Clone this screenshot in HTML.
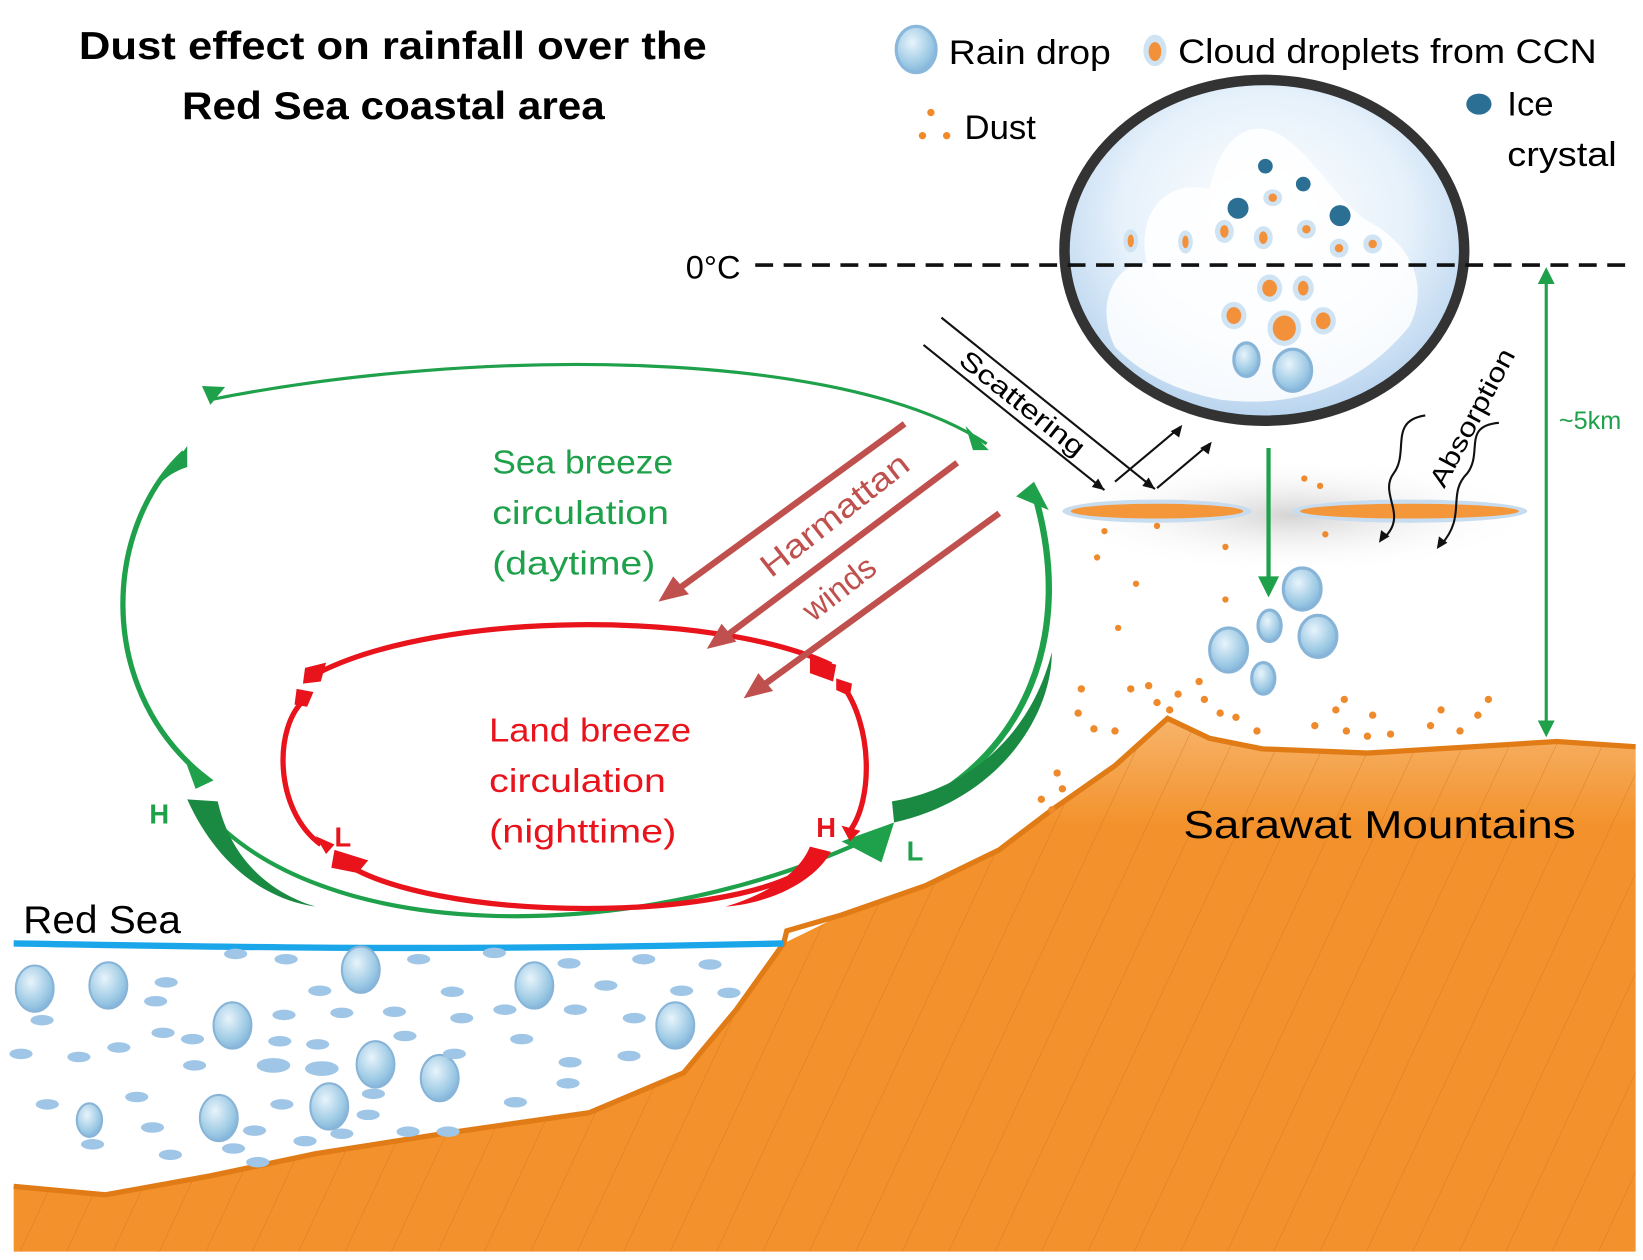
<!DOCTYPE html>
<html><head><meta charset="utf-8"><style>
html,body{margin:0;padding:0;background:#fff;width:1643px;height:1260px;overflow:hidden}
svg{display:block}
text{font-family:"Liberation Sans","DejaVu Sans",sans-serif}
</style></head><body>
<svg width="1643" height="1260" viewBox="0 0 1562 1198" preserveAspectRatio="none" xmlns="http://www.w3.org/2000/svg">
<defs>
<radialGradient id="sky" cx="0.5" cy="0.4" r="0.6"><stop offset="0" stop-color="#ffffff"/><stop offset="0.6" stop-color="#e6f1fb"/><stop offset="1" stop-color="#b7d3ee"/></radialGradient>
<radialGradient id="drop" cx="0.4" cy="0.35" r="0.7"><stop offset="0" stop-color="#e8f4fb"/><stop offset="0.7" stop-color="#9cc9e4"/><stop offset="1" stop-color="#7fb0d8"/></radialGradient>
<radialGradient id="haze" cx="0.5" cy="0.5" r="0.5"><stop offset="0" stop-color="#d4d4d4"/><stop offset="1" stop-color="#ffffff" stop-opacity="0"/></radialGradient>
<linearGradient id="mtn" x1="0" y1="0" x2="0" y2="1"><stop offset="0" stop-color="#f7b46a"/><stop offset="0.2" stop-color="#f3922c"/><stop offset="1" stop-color="#f3922c"/></linearGradient>
<pattern id="hatch" width="40" height="60" patternUnits="userSpaceOnUse" patternTransform="rotate(25)"><line x1="0" y1="0" x2="0" y2="60" stroke="#c86a18" stroke-width="1" opacity="0.6"/></pattern>
</defs>

<!-- title -->
<text x="75" y="56" font-size="37" font-weight="bold" textLength="597" lengthAdjust="spacingAndGlyphs">Dust effect on rainfall over the</text>
<text x="173" y="113" font-size="37" font-weight="bold" textLength="402" lengthAdjust="spacingAndGlyphs">Red Sea coastal area</text>

<!-- legend -->
<ellipse cx="871" cy="47" rx="19" ry="22" fill="url(#drop)" stroke="#8ab8dc" stroke-width="3"/>
<text x="902" y="61" font-size="33" textLength="154" lengthAdjust="spacingAndGlyphs">Rain drop</text>
<ellipse cx="1098" cy="48" rx="11" ry="15" fill="#cfe3f3"/><ellipse cx="1098" cy="49" rx="6" ry="9" fill="#f2913a"/>
<text x="1120" y="60" font-size="33" textLength="398" lengthAdjust="spacingAndGlyphs">Cloud droplets from CCN</text>
<circle cx="885" cy="107" r="3.5" fill="#f08a2a"/><circle cx="877" cy="129" r="3.5" fill="#f08a2a"/><circle cx="900" cy="129" r="3.5" fill="#f08a2a"/>
<text x="917" y="132" font-size="33">Dust</text>
<ellipse cx="1406" cy="99" rx="12" ry="10" fill="#2b6f95"/>
<text x="1433" y="110" font-size="33">Ice</text>
<text x="1433" y="158" font-size="33" textLength="104" lengthAdjust="spacingAndGlyphs">crystal</text>

<!-- mountain -->
<path d="M13,1128 L100,1136 L200,1118 L300,1097 L420,1078 L560,1058 L650,1020 L700,960 L745,897 L800,870 L880,842 L950,808 L1000,770 L1060,728 L1110,683 L1150,702 L1200,712 L1300,716 L1400,710 L1480,705 L1555,710 L1555,1190 L13,1190 Z" fill="url(#mtn)"/>
<path d="M13,1128 L100,1136 L200,1118 L300,1097 L420,1078 L560,1058 L650,1020 L700,960 L745,897 L800,870 L880,842 L950,808 L1000,770 L1060,728 L1110,683 L1150,702 L1200,712 L1300,716 L1400,710 L1480,705 L1555,710 L1555,1190 L13,1190 Z" fill="url(#hatch)"/>
<path d="M13,1128 L100,1136 L200,1118 L300,1097 L420,1078 L560,1058 L650,1020 L700,960 L745,897 L748,885 L800,870 L880,842 L950,808 L1000,770 L1060,728 L1110,683 L1150,702 L1200,712 L1300,716 L1400,710 L1480,705 L1555,710" fill="none" stroke="#e07b16" stroke-width="5"/>

<!-- sea -->
<path d="M13,897 C200,900 400,905 745,897" fill="none" stroke="#1aa6e8" stroke-width="6"/>
<text x="22" y="887" font-size="37" textLength="150" lengthAdjust="spacingAndGlyphs">Red Sea</text>
<g fill="url(#drop)" stroke="#88b4d8" stroke-width="2">
<ellipse cx="33" cy="940" rx="18" ry="22"/><ellipse cx="103" cy="937" rx="18" ry="22"/><ellipse cx="343" cy="922" rx="18" ry="22"/><ellipse cx="508" cy="937" rx="18" ry="22"/><ellipse cx="221" cy="975" rx="18" ry="22"/><ellipse cx="357" cy="1012" rx="18" ry="22"/><ellipse cx="418" cy="1025" rx="18" ry="22"/><ellipse cx="642" cy="975" rx="18" ry="22"/><ellipse cx="208" cy="1063" rx="18" ry="22"/><ellipse cx="313" cy="1052" rx="18" ry="22"/><ellipse cx="85" cy="1065" rx="12" ry="16"/>
</g>
<g fill="#9fc6e6">
<ellipse cx="224" cy="907" rx="11" ry="5"/><ellipse cx="272" cy="912" rx="11" ry="5"/><ellipse cx="398" cy="912" rx="11" ry="5"/><ellipse cx="470" cy="906" rx="11" ry="5"/><ellipse cx="541" cy="916" rx="11" ry="5"/><ellipse cx="612" cy="912" rx="11" ry="5"/><ellipse cx="675" cy="917" rx="11" ry="5"/><ellipse cx="158" cy="934" rx="11" ry="5"/><ellipse cx="304" cy="942" rx="11" ry="5"/><ellipse cx="430" cy="943" rx="11" ry="5"/><ellipse cx="576" cy="937" rx="11" ry="5"/><ellipse cx="648" cy="942" rx="11" ry="5"/><ellipse cx="693" cy="944" rx="11" ry="5"/><ellipse cx="148" cy="952" rx="11" ry="5"/><ellipse cx="270" cy="965" rx="11" ry="5"/><ellipse cx="325" cy="963" rx="11" ry="5"/><ellipse cx="375" cy="962" rx="11" ry="5"/><ellipse cx="439" cy="968" rx="11" ry="5"/><ellipse cx="480" cy="960" rx="11" ry="5"/><ellipse cx="547" cy="960" rx="11" ry="5"/><ellipse cx="603" cy="968" rx="11" ry="5"/><ellipse cx="40" cy="970" rx="11" ry="5"/><ellipse cx="155" cy="982" rx="11" ry="5"/><ellipse cx="183" cy="988" rx="11" ry="5"/><ellipse cx="266" cy="990" rx="11" ry="5"/><ellipse cx="302" cy="993" rx="11" ry="5"/><ellipse cx="385" cy="985" rx="11" ry="5"/><ellipse cx="496" cy="988" rx="11" ry="5"/><ellipse cx="20" cy="1002" rx="11" ry="5"/><ellipse cx="75" cy="1005" rx="11" ry="5"/><ellipse cx="113" cy="996" rx="11" ry="5"/><ellipse cx="185" cy="1013" rx="11" ry="5"/><ellipse cx="260" cy="1013" rx="16" ry="7"/><ellipse cx="306" cy="1016" rx="16" ry="7"/><ellipse cx="432" cy="1002" rx="11" ry="5"/><ellipse cx="542" cy="1010" rx="11" ry="5"/><ellipse cx="598" cy="1004" rx="11" ry="5"/><ellipse cx="45" cy="1050" rx="11" ry="5"/><ellipse cx="130" cy="1043" rx="11" ry="5"/><ellipse cx="268" cy="1050" rx="11" ry="5"/><ellipse cx="355" cy="1040" rx="11" ry="5"/><ellipse cx="490" cy="1048" rx="11" ry="5"/><ellipse cx="540" cy="1030" rx="11" ry="5"/><ellipse cx="145" cy="1072" rx="11" ry="5"/><ellipse cx="242" cy="1075" rx="11" ry="5"/><ellipse cx="350" cy="1060" rx="11" ry="5"/><ellipse cx="388" cy="1076" rx="11" ry="5"/><ellipse cx="426" cy="1076" rx="11" ry="5"/><ellipse cx="88" cy="1088" rx="11" ry="5"/><ellipse cx="162" cy="1098" rx="11" ry="5"/><ellipse cx="222" cy="1092" rx="11" ry="5"/><ellipse cx="290" cy="1085" rx="11" ry="5"/><ellipse cx="325" cy="1078" rx="11" ry="5"/><ellipse cx="245" cy="1105" rx="11" ry="5"/>
</g>

<!-- cloud circle -->
<ellipse cx="1202" cy="238" rx="190" ry="162" fill="url(#sky)"/>
<path d="M1060,330 C1040,290 1060,250 1090,250 C1080,200 1110,170 1150,180 C1160,130 1190,110 1220,130 C1250,150 1270,190 1300,210 C1340,230 1360,270 1340,310 C1300,360 1240,390 1160,380 C1110,370 1080,350 1060,330 Z" fill="#ffffff" opacity="0.85"/>
<ellipse cx="1202" cy="238" rx="190" ry="162" fill="none" stroke="#333" stroke-width="10"/>
<g fill="#cfe3f3"><ellipse cx="1075" cy="229" rx="7" ry="11"/><ellipse cx="1127" cy="230" rx="7" ry="11"/><ellipse cx="1164" cy="220" rx="9" ry="11"/><ellipse cx="1201" cy="226" rx="9" ry="11"/><ellipse cx="1242" cy="218" rx="9" ry="9"/><ellipse cx="1273" cy="236" rx="9" ry="9"/><ellipse cx="1305" cy="232" rx="9" ry="9"/><ellipse cx="1210" cy="188" rx="9" ry="8"/><ellipse cx="1207" cy="274" rx="12" ry="13"/><ellipse cx="1239" cy="274" rx="10" ry="12"/><ellipse cx="1173" cy="300" rx="12" ry="13"/><ellipse cx="1221" cy="312" rx="16" ry="17"/><ellipse cx="1258" cy="305" rx="12" ry="13"/></g>
<g fill="#f2913a"><ellipse cx="1075" cy="229" rx="3" ry="6"/><ellipse cx="1127" cy="230" rx="3" ry="6"/><ellipse cx="1164" cy="220" rx="4" ry="6"/><ellipse cx="1201" cy="226" rx="4" ry="6"/><circle cx="1242" cy="218" r="4"/><circle cx="1273" cy="236" r="4"/><circle cx="1305" cy="232" r="4"/><circle cx="1210" cy="188" r="4"/><ellipse cx="1207" cy="274" rx="7" ry="8"/><ellipse cx="1239" cy="274" rx="5" ry="7"/><ellipse cx="1173" cy="300" rx="7" ry="8"/><ellipse cx="1221" cy="312" rx="11" ry="12"/><ellipse cx="1258" cy="305" rx="7" ry="8"/></g>
<g fill="#2b6f95"><circle cx="1203" cy="158" r="7"/><circle cx="1239" cy="175" r="7"/><circle cx="1177" cy="198" r="10"/><circle cx="1274" cy="205" r="10"/></g>
<g fill="url(#drop)" stroke="#88b4d8" stroke-width="3"><ellipse cx="1185" cy="342" rx="12" ry="16"/><ellipse cx="1229" cy="352" rx="18" ry="20"/></g>

<!-- 0C line -->
<text x="652" y="265" font-size="31">0°C</text>
<line x1="718" y1="252" x2="1550" y2="252" stroke="#111" stroke-width="3.5" stroke-dasharray="17,10"/>

<!-- ~5km -->
<line x1="1470" y1="265" x2="1470" y2="690" stroke="#1fa04b" stroke-width="3"/>
<path d="M1462,270 L1470,254 L1478,270 Z M1462,685 L1470,701 L1478,685 Z" fill="#1fa04b"/>
<text x="1482" y="408" font-size="24" fill="#1fa04b">~5km</text>

<!-- dust cloud layer -->
<ellipse cx="1230" cy="490" rx="230" ry="55" fill="url(#haze)"/>
<ellipse cx="1100" cy="486" rx="90" ry="11" fill="#c7dcef"/>
<ellipse cx="1340" cy="486" rx="112" ry="11" fill="#c7dcef"/>
<ellipse cx="1100" cy="486" rx="82" ry="7" fill="#f4963a"/>
<ellipse cx="1340" cy="486" rx="104" ry="7" fill="#f4963a"/>
<g fill="#ef8a2c">
<circle cx="1050" cy="505" r="3"/><circle cx="1043" cy="530" r="3"/><circle cx="1080" cy="555" r="3"/><circle cx="1063" cy="597" r="3"/><circle cx="1240" cy="455" r="3"/><circle cx="1255" cy="462" r="3"/><circle cx="1165" cy="520" r="3"/><circle cx="1165" cy="570" r="3"/><circle cx="1100" cy="500" r="3"/><circle cx="1260" cy="508" r="3"/>
<circle cx="1028" cy="655" r="3.5"/><circle cx="1025" cy="678" r="3.5"/><circle cx="1040" cy="693" r="3.5"/><circle cx="1060" cy="695" r="3.5"/><circle cx="1075" cy="655" r="3.5"/><circle cx="1092" cy="652" r="3.5"/><circle cx="1100" cy="668" r="3.5"/><circle cx="1112" cy="675" r="3.5"/><circle cx="1120" cy="660" r="3.5"/><circle cx="1140" cy="648" r="3.5"/><circle cx="1145" cy="665" r="3.5"/><circle cx="1160" cy="678" r="3.5"/><circle cx="1175" cy="682" r="3.5"/><circle cx="1195" cy="695" r="3.5"/><circle cx="1250" cy="690" r="3.5"/><circle cx="1270" cy="675" r="3.5"/><circle cx="1280" cy="695" r="3.5"/><circle cx="1300" cy="700" r="3.5"/><circle cx="1305" cy="680" r="3.5"/><circle cx="1360" cy="690" r="3.5"/><circle cx="1370" cy="675" r="3.5"/><circle cx="1388" cy="695" r="3.5"/><circle cx="1405" cy="680" r="3.5"/><circle cx="1415" cy="665" r="3.5"/><circle cx="1005" cy="735" r="3.5"/><circle cx="990" cy="760" r="3.5"/><circle cx="1000" cy="770" r="3.5"/><circle cx="1010" cy="750" r="3.5"/><circle cx="1278" cy="665" r="3.5"/><circle cx="1322" cy="698" r="3.5"/>
</g>

<!-- rain fall -->
<line x1="1206" y1="426" x2="1206" y2="555" stroke="#1fa04b" stroke-width="4"/>
<path d="M1196,548 L1206,568 L1216,548 Z" fill="#1fa04b"/>
<g fill="url(#drop)" stroke="#88b4d8" stroke-width="3"><ellipse cx="1238" cy="560" rx="18" ry="20"/><ellipse cx="1207" cy="595" rx="11" ry="15"/><ellipse cx="1253" cy="605" rx="18" ry="20"/><ellipse cx="1168" cy="618" rx="18" ry="21"/><ellipse cx="1201" cy="645" rx="11" ry="15"/></g>

<!-- scattering -->
<g stroke="#111" stroke-width="2" fill="none"><line x1="895" y1="302" x2="1098" y2="465"/><line x1="878" y1="328" x2="1050" y2="466"/><line x1="1060" y1="458" x2="1122" y2="406"/><line x1="1100" y1="464" x2="1150" y2="422"/></g>
<g fill="#111"><path d="M1050,466 l-12,-3 l6,-8 Z"/><path d="M1098,465 l-12,-3 l6,-8 Z"/><path d="M1124,404 l-3,12 l-8,-6 Z"/><path d="M1152,420 l-3,12 l-8,-6 Z"/></g>
<text x="0" y="0" font-size="25" transform="translate(910,345) rotate(38.5)" textLength="145" lengthAdjust="spacingAndGlyphs">Scattering</text>
<!-- absorption -->
<g stroke="#111" stroke-width="2" fill="none"><path d="M1355,395 C1320,400 1340,430 1325,450 C1310,470 1340,490 1315,512"/><path d="M1425,402 C1390,405 1410,430 1395,450 C1375,470 1395,490 1370,518"/></g>
<path d="M1311,516 l2,-12 l8,6 Z M1366,522 l2,-12 l8,6 Z" fill="#111"/>
<text x="0" y="0" font-size="25" transform="translate(1373,465) rotate(-62)" textLength="145" lengthAdjust="spacingAndGlyphs">Absorption</text>

<!-- green sea breeze loop -->
<g fill="none" stroke="#1fa04b">
<path d="M200,380 C450,330 800,330 938,422" stroke-width="3"/>
<path d="M175,430 C100,500 90,650 190,735" stroke-width="5"/>
<path d="M190,765 C300,900 600,900 820,800" stroke-width="4"/>
<path d="M855,775 C980,720 1020,600 985,475" stroke-width="6"/>
</g>
<path d="M178,424 L178,444 C160,450 150,460 145,470 Z" fill="#1f9d4a"/>
<path d="M192,367 L214,368 L200,385 Z" fill="#1fa04b"/>
<path d="M918,405 L940,428 L925,428 Z" fill="#1fa04b"/>
<path d="M175,720 L203,742 L186,750 Z" fill="#1fa04b"/>
<path d="M178,760 L207,762 C220,820 260,850 300,862 C250,855 205,820 178,760 Z" fill="#1a8a42"/>
<path d="M800,800 L850,782 L838,820 Z" fill="#1fa04b"/>
<path d="M848,762 L850,782 C950,760 1000,680 1000,620 C980,700 920,750 848,762 Z" fill="#1a8a42"/>
<path d="M966,472 L983,458 L997,485 Z" fill="#1fa04b"/>
<text x="468" y="450" font-size="32" fill="#1fa04b" textLength="172" lengthAdjust="spacingAndGlyphs">Sea breeze</text>
<text x="468" y="498" font-size="32" fill="#1fa04b" textLength="168" lengthAdjust="spacingAndGlyphs">circulation</text>
<text x="468" y="546" font-size="32" fill="#1fa04b" textLength="155" lengthAdjust="spacingAndGlyphs">(daytime)</text>
<text x="142" y="783" font-size="26" font-weight="bold" fill="#1fa04b">H</text>
<text x="862" y="818" font-size="26" font-weight="bold" fill="#1fa04b">L</text>

<!-- red land breeze loop -->
<g fill="none" stroke="#e8131b" stroke-width="5">
<path d="M302,640 C420,580 680,580 790,632"/>
<path d="M800,650 C830,690 830,760 808,790"/>
<path d="M780,815 C720,880 400,880 320,815"/>
<path d="M305,803 C260,770 260,690 290,665"/>
</g>
<path d="M290,635 L310,630 L305,648 L288,650 Z" fill="#e8131b"/>
<path d="M770,625 L795,632 L792,648 L770,640 Z" fill="#e8131b"/>
<path d="M282,655 L298,658 L292,672 L280,670 Z" fill="#e8131b"/>
<path d="M795,645 L810,650 L808,662 L795,656 Z" fill="#e8131b"/>
<path d="M770,805 L790,810 C770,845 720,860 690,862 C730,850 760,830 770,805 Z" fill="#e8131b"/>
<path d="M318,808 L350,818 L340,830 L315,825 Z" fill="#e8131b"/>
<path d="M300,795 L318,803 L310,812 Z" fill="#e8131b"/>
<path d="M800,785 L818,790 L808,800 Z" fill="#e8131b"/>
<text x="465" y="705" font-size="32" fill="#e8131b" textLength="192" lengthAdjust="spacingAndGlyphs">Land breeze</text>
<text x="465" y="753" font-size="32" fill="#e8131b" textLength="168" lengthAdjust="spacingAndGlyphs">circulation</text>
<text x="465" y="801" font-size="32" fill="#e8131b" textLength="178" lengthAdjust="spacingAndGlyphs">(nighttime)</text>
<text x="318" y="805" font-size="26" font-weight="bold" fill="#e8131b">L</text>
<text x="776" y="796" font-size="26" font-weight="bold" fill="#e8131b">H</text>

<!-- harmattan -->
<g stroke="#c0504d" stroke-width="6"><line x1="860" y1="403" x2="645" y2="560"/><line x1="910" y1="440" x2="690" y2="605"/><line x1="950" y1="488" x2="725" y2="652"/></g>
<g fill="#c0504d"><path d="M626,572 L640,548 L655,565 Z"/><path d="M672,617 L686,593 L700,610 Z"/><path d="M707,664 L721,640 L735,657 Z"/></g>
<text x="0" y="0" font-size="31" fill="#c0504d" transform="translate(733,550) rotate(-38)" textLength="170" lengthAdjust="spacingAndGlyphs">Harmattan</text>
<text x="0" y="0" font-size="31" fill="#c0504d" transform="translate(773,592) rotate(-38)">winds</text>

<text x="1125" y="797" font-size="37" textLength="373" lengthAdjust="spacingAndGlyphs">Sarawat Mountains</text>
</svg>
</body></html>
